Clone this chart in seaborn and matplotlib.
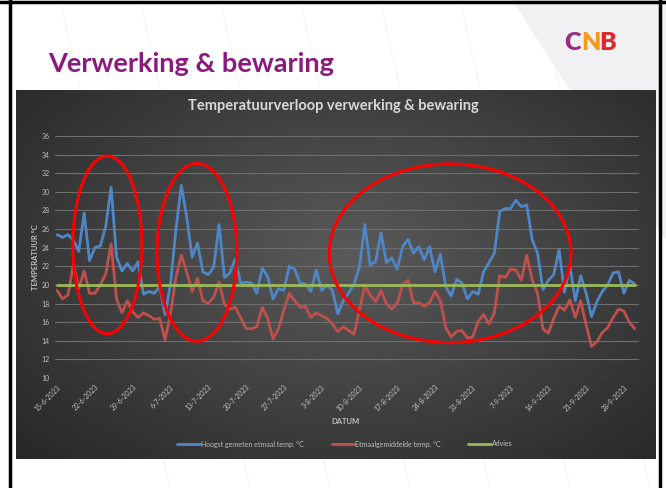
import numpy as np
import pandas as pd
import matplotlib.pyplot as plt
import matplotlib.dates as mdates
from matplotlib.patches import Ellipse, Polygon
import seaborn as sns

# daily values 15-6-2023 .. 30-9-2023
dates = pd.date_range("2023-06-15", "2023-09-30", freq="D")
hoogst = [25.4, 25.1, 25.4, 24.8, 23.6, 27.7, 22.6, 24.0, 24.2, 26.3,
          30.5, 23.0, 21.5, 22.3, 21.5, 22.5, 19.0, 19.3, 19.1, 19.8,
          16.8, 20.1, 25.9, 30.7, 27.3, 23.0, 24.5, 21.4, 21.1, 21.9,
          26.5, 20.8, 21.3, 22.8, 20.2, 20.3, 20.2, 19.1, 21.8, 20.9,
          18.5, 19.6, 19.4, 22.0, 21.7, 20.2, 20.1, 19.3, 21.6, 19.4,
          20.0, 19.4, 16.9, 18.3, 19.1, 20.1, 21.9, 26.5, 22.1, 22.5,
          25.6, 22.4, 22.9, 21.7, 24.1, 24.9, 23.4, 24.1, 22.7, 24.1,
          21.4, 23.3, 19.8, 18.8, 20.6, 20.2, 18.5, 19.3, 19.0, 21.4,
          22.4, 23.4, 27.9, 28.2, 28.2, 29.1, 28.4, 28.6, 24.9, 23.4,
          19.5, 20.5, 21.1, 23.8, 19.2, 22.1, 18.3, 21.0, 19.1, 16.6,
          18.2, 19.3, 20.0, 21.3, 21.4, 19.1, 20.5, 20.1]
gemiddeld = [19.4, 18.5, 18.9, 22.2, 19.6, 21.5, 19.1, 19.1, 20.0, 21.2,
             24.4, 18.5, 17.0, 18.3, 17.1, 16.5, 17.0, 16.7, 16.3, 16.4,
             14.1, 16.9, 20.8, 23.2, 21.4, 19.3, 20.7, 18.3, 18.0, 18.7,
             20.3, 17.9, 17.4, 17.6, 16.5, 15.3, 15.3, 15.5, 17.6, 16.4,
             14.2, 15.3, 17.3, 19.1, 18.3, 17.6, 17.7, 16.5, 17.0, 16.7,
             16.4, 15.8, 15.0, 15.5, 15.1, 14.7, 17.3, 19.9, 18.9, 18.2,
             19.4, 18.0, 17.4, 18.0, 20.0, 20.5, 18.1, 18.1, 17.7, 18.1,
             19.3, 18.3, 15.4, 14.4, 15.0, 15.1, 14.3, 14.4, 16.1, 16.8,
             15.8, 17.0, 21.0, 20.8, 21.7, 21.6, 20.5, 23.2, 20.6, 19.1,
             15.3, 14.8, 16.4, 17.7, 17.3, 18.4, 16.5, 18.3, 15.7, 13.4,
             13.9, 14.9, 15.4, 16.5, 17.4, 17.2, 16.0, 15.3]
advies = [20] * len(dates)
series_names = ["Hoogst gemeten etmaal temp. °C", "Etmaalgemiddelde temp. °C", "Advies"]
series_colors = ["#4f86c6", "#c0504d", "#9bbb59"]
tick_dates = pd.date_range("2023-06-15", "2023-09-28", freq="7D")
y_ticks = list(range(10, 37, 2))

df = pd.DataFrame({"datum": dates, series_names[0]: hoogst,
                   series_names[1]: gemiddeld, series_names[2]: advies})
long = df.melt(id_vars="datum", var_name="reeks", value_name="temp")

sns.set_theme(style="dark")
plt.rcParams["font.family"] = ["Lato", "DejaVu Sans"]

W, H = 666, 488
fig = plt.figure(figsize=(W / 100, H / 100), dpi=100)
fig.patch.set_facecolor("white")

# slide background
bg = fig.add_axes([0, 0, 1, 1])
bg.add_patch(Polygon([[512, 0], [666, 0], [666, 240]], closed=True,
                     facecolor="#f1f1f4", edgecolor="none", zorder=0))
for xs in range(60, 560, 80):
    bg.plot([xs, xs + 110], [0, 488], color="#f4f4f4", lw=0.8, zorder=0.5)

# chart gradient
gx, gy = np.meshgrid(np.linspace(0, 1, 300), np.linspace(0, 1, 200))
d = np.sqrt(((gx - 0.52) / 0.75) ** 2 + ((gy - 0.45) / 0.85) ** 2)
d = np.clip(d, 0, 1)
light = np.array([0x5a, 0x5a, 0x5a]) / 255
dark = np.array([0x24, 0x24, 0x24]) / 255
img = light[None, None, :] * (1 - d[..., None]) + dark[None, None, :] * d[..., None]
bg.imshow(img, extent=(16, 656, 459, 90), aspect="auto", zorder=1)
bg.set_xlim(0, W)
bg.set_ylim(H, 0)
bg.axis("off")

# slide frame
bg.plot([9.5, 9.5], [0, H], color="black", lw=2.5, zorder=5)
bg.plot([660, 660], [0, H], color="black", lw=2.5, zorder=5)
bg.plot([0, W], [1.5, 1.5], color="black", lw=2.5, zorder=5)

bg.text(48, 72, "Verwerking & bewaring", fontsize=19.6, fontweight="bold",
        color="#8b1a7e", va="baseline", ha="left")
# logo
bg.text(564, 50, "C", fontsize=18, fontweight="heavy", color="#9b2a83", va="baseline")
bg.text(581, 50, "N", fontsize=18, fontweight="heavy", color="#f39a1e", va="baseline")
bg.text(599, 50, "B", fontsize=18, fontweight="heavy", color="#e3262b", va="baseline")

bg.text(333, 106, "Temperatuurverloop verwerking & bewaring", fontsize=10.5,
        fontweight="bold", color="#d9d9d9", ha="center", va="center", zorder=3)
bg.text(345, 421, "DATUM", fontsize=5.5, fontweight="bold", color="#bfbfbf",
        ha="center", va="center", zorder=3)
bg.text(36, 257, "TEMPERATUUR °C", fontsize=5.5, fontweight="bold", color="#bfbfbf",
        ha="center", va="center", rotation=90, zorder=3)

# plot
ax = fig.add_axes([55 / W, 1 - 378 / H, 584 / W, 242 / H])
ax.patch.set_alpha(0)
sns.lineplot(data=long, x="datum", y="temp", hue="reeks", hue_order=series_names,
             palette=series_colors, linewidth=2.0, ax=ax, legend=True)
x0 = mdates.date2num(dates[0])
ax.set_xlim(x0 - 0.4, x0 + 107.8)
ax.set_ylim(10, 36)
ax.set_yticks(y_ticks)
ax.set_xticks(tick_dates)
ax.set_xticklabels([f"{t.day}-{t.month}-{t.year}" for t in tick_dates],
                   rotation=45, ha="right", rotation_mode="anchor")
ax.tick_params(axis="both", colors="#bfbfbf", labelsize=5, length=0, pad=4)
ax.grid(axis="y", color="#6e6e6e", lw=0.8)
ax.grid(axis="x", visible=False)
for s in ax.spines.values():
    s.set_visible(False)
ax.set_xlabel("")
ax.set_ylabel("")

handles, labels = ax.get_legend_handles_labels()
ax.get_legend().remove()
fig.legend(handles, labels, loc="center", bbox_to_anchor=(345 / W, 1 - 444 / H),
           ncol=3, frameon=False, fontsize=5, labelcolor="#bfbfbf",
           handlelength=3.2, columnspacing=4, handletextpad=0.2)

# red annotation ellipses
for cx, cy, w, h in [(9.3, 24.3, 12.8, 19.1), (25.9, 23.5, 14.8, 19.1),
                     (72.8, 23.4, 44.8, 19.2)]:
    ax.add_patch(Ellipse((x0 + cx, cy), w, h, fill=False, edgecolor="#ff0000",
                         lw=2.2, zorder=5))

fig.savefig("out.png", dpi=100)
